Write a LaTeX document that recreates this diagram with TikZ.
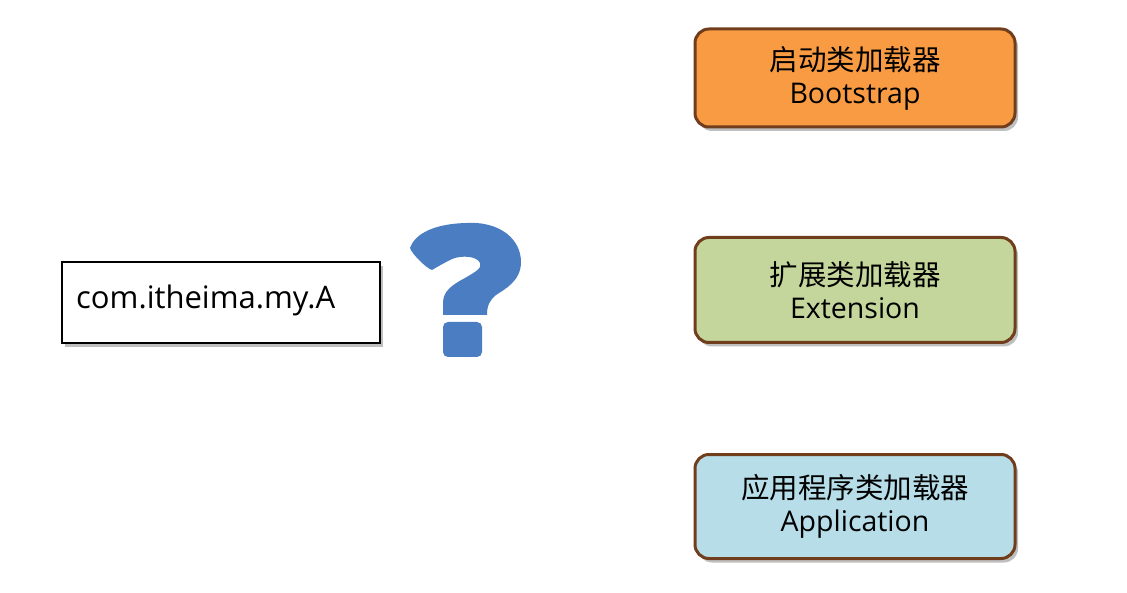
\documentclass[tikz,border=0pt]{standalone}
\usepackage{fontspec}
\setmainfont{Open Sans}
\newfontfamily\cjk{Noto Sans CJK SC}
\definecolor{brownb}{RGB}{112,62,28}
\definecolor{orangef}{RGB}{249,155,66}
\definecolor{greenf}{RGB}{196,214,155}
\definecolor{bluef}{RGB}{183,222,232}
\definecolor{qblue}{RGB}{74,125,193}
\begin{document}
\begin{tikzpicture}[x=1pt,y=-1pt,
  loader/.style={draw=brownb,line width=3pt,rounded corners=14pt,minimum width=320pt,minimum height=100pt,align=center,inner sep=0pt,
    font=\fontsize{28.5}{33}\selectfont},
  shadowed/.style={preaction={fill=black,opacity=0.25,transform canvas={xshift=3pt,yshift=-4pt}}},
  classbox/.style={draw=black,line width=2pt,minimum width=318pt,minimum height=81pt,inner sep=0pt}]
\useasboundingbox (0,0) rectangle (1127,593);
\fill[white] (0,0) rectangle (1127,593);
% loaders
\node[loader,shadowed,fill=orangef,minimum height=98pt] (boot) at (855,78) {{\cjk 启动类加载器}\\Bootstrap};
\node[loader,shadowed,fill=greenf,minimum height=105pt] (ext) at (855,290) {{\cjk 扩展类加载器}\\Extension};
\node[loader,shadowed,fill=bluef,minimum height=104pt] (app) at (855,506.5) {{\cjk 应用程序类加载器}\\Application};
% class box
\node[classbox,shadowed,fill=white] (cls) at (221,302.5) {};
\node[anchor=west,inner sep=0pt,font=\fontsize{31}{34}\selectfont] (clstext) at (76,300) {com.itheima.my.A};
% question mark
\fill[qblue] (443,315) -- (443,303) .. controls (443,291) and (452,285) .. (465,278)
  .. controls (477,271) and (482,268) .. (480,263)
  .. controls (477,256) and (462,255) .. (452,259)
  .. controls (444,263) and (437,267) .. (432,270)
  .. controls (426,268) and (412,254) .. (410,248)
  .. controls (414,236) and (430,224) .. (466,223)
  .. controls (501,221) and (521,240) .. (521,262)
  .. controls (521,281) and (505,289) .. (496,295)
  .. controls (490,300) and (487,305) .. (487,315) -- cycle;
\fill[qblue,rounded corners=5pt] (443,322) rectangle (482,357);
\end{tikzpicture}
\end{document}
